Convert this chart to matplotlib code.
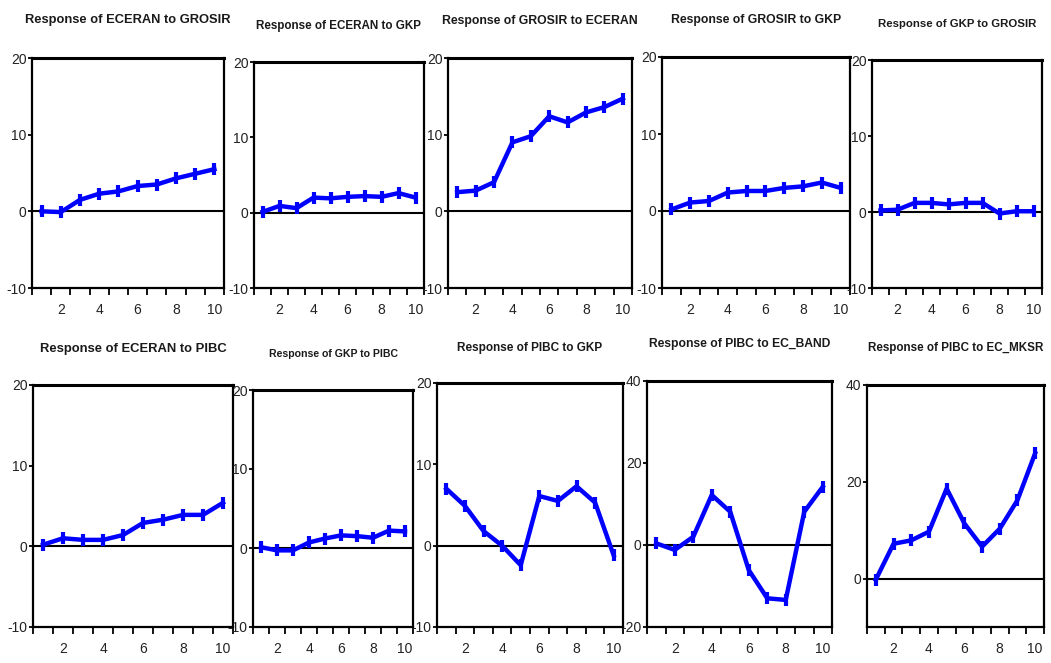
import matplotlib
matplotlib.use('Agg')
import matplotlib.pyplot as plt
import numpy as np

periods = np.arange(1, 11)

# impulse responses, one list per shock/response pair
eceran_grosir = [0.0, -0.1, 1.5, 2.3, 2.6, 3.3, 3.5, 4.3, 4.9, 5.5]
eceran_gkp = [0.1, 0.9, 0.6, 2.0, 1.9, 2.1, 2.2, 2.1, 2.6, 2.0]
grosir_eceran = [2.5, 2.7, 3.8, 9.0, 9.8, 12.4, 11.6, 12.9, 13.6, 14.7]
grosir_gkp = [0.2, 1.1, 1.3, 2.4, 2.6, 2.6, 3.0, 3.2, 3.7, 3.0]
gkp_grosir = [0.2, 0.3, 1.2, 1.2, 1.0, 1.2, 1.2, -0.2, 0.1, 0.1]
eceran_pibc = [0.2, 1.0, 0.8, 0.8, 1.4, 2.9, 3.3, 3.9, 3.9, 5.4]
gkp_pibc = [0.1, -0.3, -0.3, 0.7, 1.2, 1.6, 1.5, 1.3, 2.2, 2.1]
pibc_gkp = [7.0, 4.9, 1.8, 0.0, -2.4, 6.1, 5.5, 7.3, 5.3, -1.2]
pibc_ec_band = [0.4, -1.2, 2.0, 12.2, 8.1, -6.1, -13.0, -13.4, 8.1, 14.2]
pibc_ec_mksr = [-0.2, 7.2, 7.9, 9.7, 18.6, 11.4, 6.6, 10.3, 16.2, 25.9]

titles = ['Response of ECERAN to GROSIR', 'Response of ECERAN to GKP',
          'Response of GROSIR to ECERAN', 'Response of GROSIR to GKP',
          'Response of GKP to GROSIR', 'Response of ECERAN to PIBC',
          'Response of GKP to PIBC', 'Response of PIBC to GKP',
          'Response of PIBC to EC_BAND', 'Response of PIBC to EC_MKSR']
series = [eceran_grosir, eceran_gkp, grosir_eceran, grosir_gkp, gkp_grosir,
          eceran_pibc, gkp_pibc, pibc_gkp, pibc_ec_band, pibc_ec_mksr]

# y scale of each panel
ylims = [(-10, 20)] * 8 + [(-20, 40), (-10, 40)]
yticks = [[-10, 0, 10, 20]] * 8 + [[-20, 0, 20, 40], [0, 20, 40]]

# panel boxes in pixels: left, top, right, bottom
boxes = [(32, 58, 224, 288), (254, 62, 424, 288), (448, 58, 632, 288),
         (662, 57, 850, 288), (872, 60, 1042, 288),
         (33, 385, 233, 627), (253, 390, 413, 627), (437, 383, 623, 627),
         (647, 381, 832, 627), (867, 385, 1044, 627)]
title_y = [20, 26, 21, 20, 24, 349, 354, 348, 344, 348]
title_size = [9.3, 8.4, 8.8, 8.8, 8.2, 9.4, 7.6, 8.5, 8.7, 8.4]

W, H = 1051, 663
fnt = ['Liberation Sans', 'DejaVu Sans']

fig = plt.figure(figsize=(W / 100, H / 100), dpi=100)

for i in range(10):
    l, t, r, b = boxes[i]
    ax = fig.add_axes([l / W, 1 - b / H, (r - l) / W, (b - t) / H])
    ax.plot(periods, series[i], color='#0000ff', lw=3.2, marker='|',
            ms=9, mew=3, solid_joinstyle='round')
    ax.axhline(0, color='black', lw=1.5, zorder=1)
    ax.set_xlim(0.5, 10.5)
    ax.set_ylim(*ylims[i])
    ax.set_yticks(yticks[i])
    ax.set_yticklabels([str(v) for v in yticks[i]], family=fnt, fontsize=10,
                       color='#222222')
    ax.set_xticks([2, 4, 6, 8, 10])
    ax.set_xticklabels(['2', '4', '6', '8', '10'], family=fnt, fontsize=10,
                       color='#222222')
    ax.set_xticks(np.arange(0.5, 11, 1), minor=True)
    ax.tick_params(axis='x', which='major', length=0, pad=11)
    ax.tick_params(axis='x', which='minor', length=5, width=1.3, direction='out')
    ax.tick_params(axis='y', length=3, width=1.3, direction='out', pad=1)
    for s in ax.spines.values():
        s.set_linewidth(1.6)
    ax.spines['top'].set_linewidth(2.2)
    fig.text((l + r) / 2 / W, 1 - title_y[i] / H, titles[i], ha='center',
             va='center', family=fnt, fontsize=title_size[i],
             fontweight='bold', color='#1a1a1a')

fig.savefig('out.png', dpi=100)
